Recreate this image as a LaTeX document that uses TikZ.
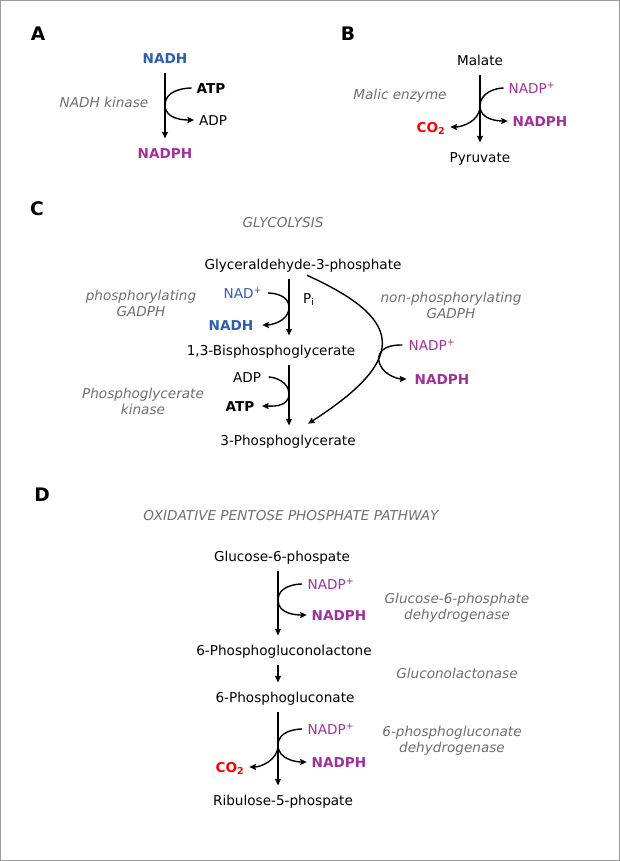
\documentclass[tikz,border=0pt]{standalone}
\usepackage{fontspec}
\setmainfont{DejaVu Sans}
\usetikzlibrary{arrows.meta}
\definecolor{Ink}{HTML}{000000}
\definecolor{NadBlue}{HTML}{2B5EAE}
\definecolor{NadpPurple}{HTML}{A0309A}
\definecolor{CoRed}{HTML}{FF0000}
\definecolor{Enzyme}{HTML}{6F6F6F}
\definecolor{Frame}{HTML}{9A9A9A}

\begin{document}
\begin{tikzpicture}[x=.75pt,y=-.75pt,>={Stealth[length=5pt,width=4.6pt,inset=.8pt]},
  metab/.style={inner sep=0pt,text height=7.5pt,text depth=0pt,
   font=\fontsize{10.2}{12}\selectfont},
  strong/.style={metab,font=\fontsize{10.2}{12}\selectfont\bfseries},
  enzyme/.style={inner sep=0pt,align=center,text=Enzyme,
   font=\fontsize{10.2}{12}\selectfont\itshape},
  panel/.style={inner sep=0pt,font=\fontsize{14}{16}\selectfont\bfseries},
  main/.style={->,line width=1.05pt,draw=Ink,shorten <=7pt,shorten >=7pt},
  feed/.style={line width=1.05pt,draw=Ink,shorten <=3.5pt},
  side/.style={->,line width=1.05pt,draw=Ink,shorten >=3.5pt}]
  \useasboundingbox (0,0) rectangle (620,861);
  \draw[Frame,line width=.75pt] (0.5,0.5) rectangle (619.5,860.5);

  % A
  \node[panel] (labA) at (38,34) {A};
  \node[strong,text=NadBlue] (nadhA) at (165,58) {NADH};
  \node[strong,text=NadpPurple] (nadphA) at (165,153) {NADPH};
  \node[strong] (atpA) at (211,88) {ATP};
  \node[metab] (adpA) at (213,120) {ADP};
  \node[enzyme] (kinA) at (104,102) {NADH kinase};
  \coordinate (jA) at (165,105);
  \draw[main] (nadhA) -- (nadphA);
  \draw[side,shorten <=3.5pt] (atpA.west) to[out=180,in=90] (jA) to[out=-90,in=180] (adpA.west);

  % B
  \node[panel] (labB) at (348,34) {B};
  \node[metab] (malate) at (480,60) {Malate};
  \node[metab] (pyruvate) at (480,157) {Pyruvate};
  \node[metab,text=NadpPurple] (nadpB) at (532,88) {NADP\textsuperscript{+}};
  \node[strong,text=NadpPurple] (nadphB) at (540,121) {NADPH};
  \node[strong,text=CoRed] (co2B) at (431,127) {CO\textsubscript{2}};
  \node[enzyme] (malic) at (400,96) {Malic enzyme};
  \coordinate (jB) at (480,106);
  \draw[main] (malate) -- (pyruvate);
  \draw[feed] (nadpB.west) to[out=180,in=90] (jB);
  \draw[side] (jB) to[out=-90,in=180] (nadphB.west);
  \draw[side] (jB) to[out=-90,in=0] (co2B.east);

  % C
  \node[panel] (labC) at (37,209) {C};
  \node[enzyme] (glycol) at (283,223) {GLYCOLYSIS};
  \node[metab] (g3p) at (303,264) {Glyceraldehyde-3-phosphate};
  \node[metab] (bpg) at (271,350) {1,3-Bisphosphoglycerate};
  \node[metab] (pg3) at (288,440) {3-Phosphoglycerate};
  \node[metab,text=NadBlue] (nadC) at (243,293) {NAD\textsuperscript{+}};
  \node[metab] (piC) at (309,298) {P\textsubscript{i}};
  \node[strong,text=NadBlue] (nadhC) at (231,325) {NADH};
  \node[metab] (adpC) at (247,377) {ADP};
  \node[strong] (atpC) at (240,406) {ATP};
  \node[metab,text=NadpPurple] (nadpC) at (432,345) {NADP\textsuperscript{+}};
  \node[strong,text=NadpPurple] (nadphC) at (442,379) {NADPH};
  \node[enzyme] (gadph) at (141,303) {phosphorylating\\GADPH};
  \node[enzyme] (pgk) at (143,401) {Phosphoglycerate\\kinase};
  \node[enzyme] (npgadph) at (451,305) {non-phosphorylating\\GADPH};
  \coordinate (jC1) at (289,307);
  \coordinate (jC2) at (289,394);
  \coordinate (jC3) at (378.6,357.6);
  \draw[main] (g3p.south -| jC1) -- (bpg.north -| jC1);
  \draw[main] (bpg.south -| jC1) -- (pg3.north -| jC1);
  \draw[side,shorten <=4pt,shorten >=6.5pt] (nadC.east) to[out=0,in=90] (jC1) to[out=-90,in=0] (nadhC.east);
  \draw[side,shorten <=5.5pt,shorten >=5.5pt] (adpC.east) to[out=0,in=90] (jC2) to[out=-90,in=0] (atpC.east);
  \draw[->,line width=1.05pt] ([shift={(4,6)}]g3p.south)
    .. controls (399.9,317.5) and (412.8,356.4) .. ([shift={(20,-11)}]pg3.north);
  \draw[feed,shorten <=4.5pt] (nadpC.west) to[out=180,in=80] (jC3);
  \draw[side,shorten >=6pt] (jC3) to[out=-90,in=180] (nadphC.west);

  % D
  \node[panel] (labD) at (42,495) {D};
  \node[enzyme] (oppp) at (291,516) {OXIDATIVE PENTOSE PHOSPHATE PATHWAY};
  \node[metab] (g6p) at (282,556) {Glucose-6-phospate};
  \node[metab] (pgl) at (284,650) {6-Phosphogluconolactone};
  \node[metab] (pgn) at (285,697) {6-Phosphogluconate};
  \node[metab] (ru5p) at (283,800) {Ribulose-5-phospate};
  \node[metab,text=NadpPurple] (nadpD1) at (331,584) {NADP\textsuperscript{+}};
  \node[strong,text=NadpPurple] (nadphD1) at (339,615) {NADPH};
  \node[metab,text=NadpPurple] (nadpD2) at (331,729) {NADP\textsuperscript{+}};
  \node[strong,text=NadpPurple] (nadphD2) at (339,762) {NADPH};
  \node[strong,text=CoRed] (co2D) at (230,767) {CO\textsubscript{2}};
  \node[enzyme] (g6pdh) at (457,608) {Glucose-6-phosphate\\dehydrogenase};
  \node[enzyme] (lactonase) at (457,673) {Gluconolactonase};
  \node[enzyme] (pgdh) at (452,741) {6-phosphogluconate\\dehydrogenase};
  \coordinate (jD1) at (278,600);
  \coordinate (jD2) at (278,745);
  \draw[main] (g6p.south -| jD1) -- (pgl.north -| jD1);
  \draw[main] (pgl.south -| jD1) -- (pgn.north -| jD1);
  \draw[main] (pgn.south -| jD1) -- (ru5p.north -| jD1);
  \draw[side,shorten <=4pt] (nadpD1.west) to[out=180,in=90] (jD1) to[out=-90,in=180] (nadphD1.west);
  \draw[feed,shorten <=4pt] (nadpD2.west) to[out=180,in=90] (jD2);
  \draw[side] (jD2) to[out=-90,in=180] (nadphD2.west);
  \draw[side] (jD2) to[out=-90,in=0] (co2D.east);
\end{tikzpicture}
\end{document}
